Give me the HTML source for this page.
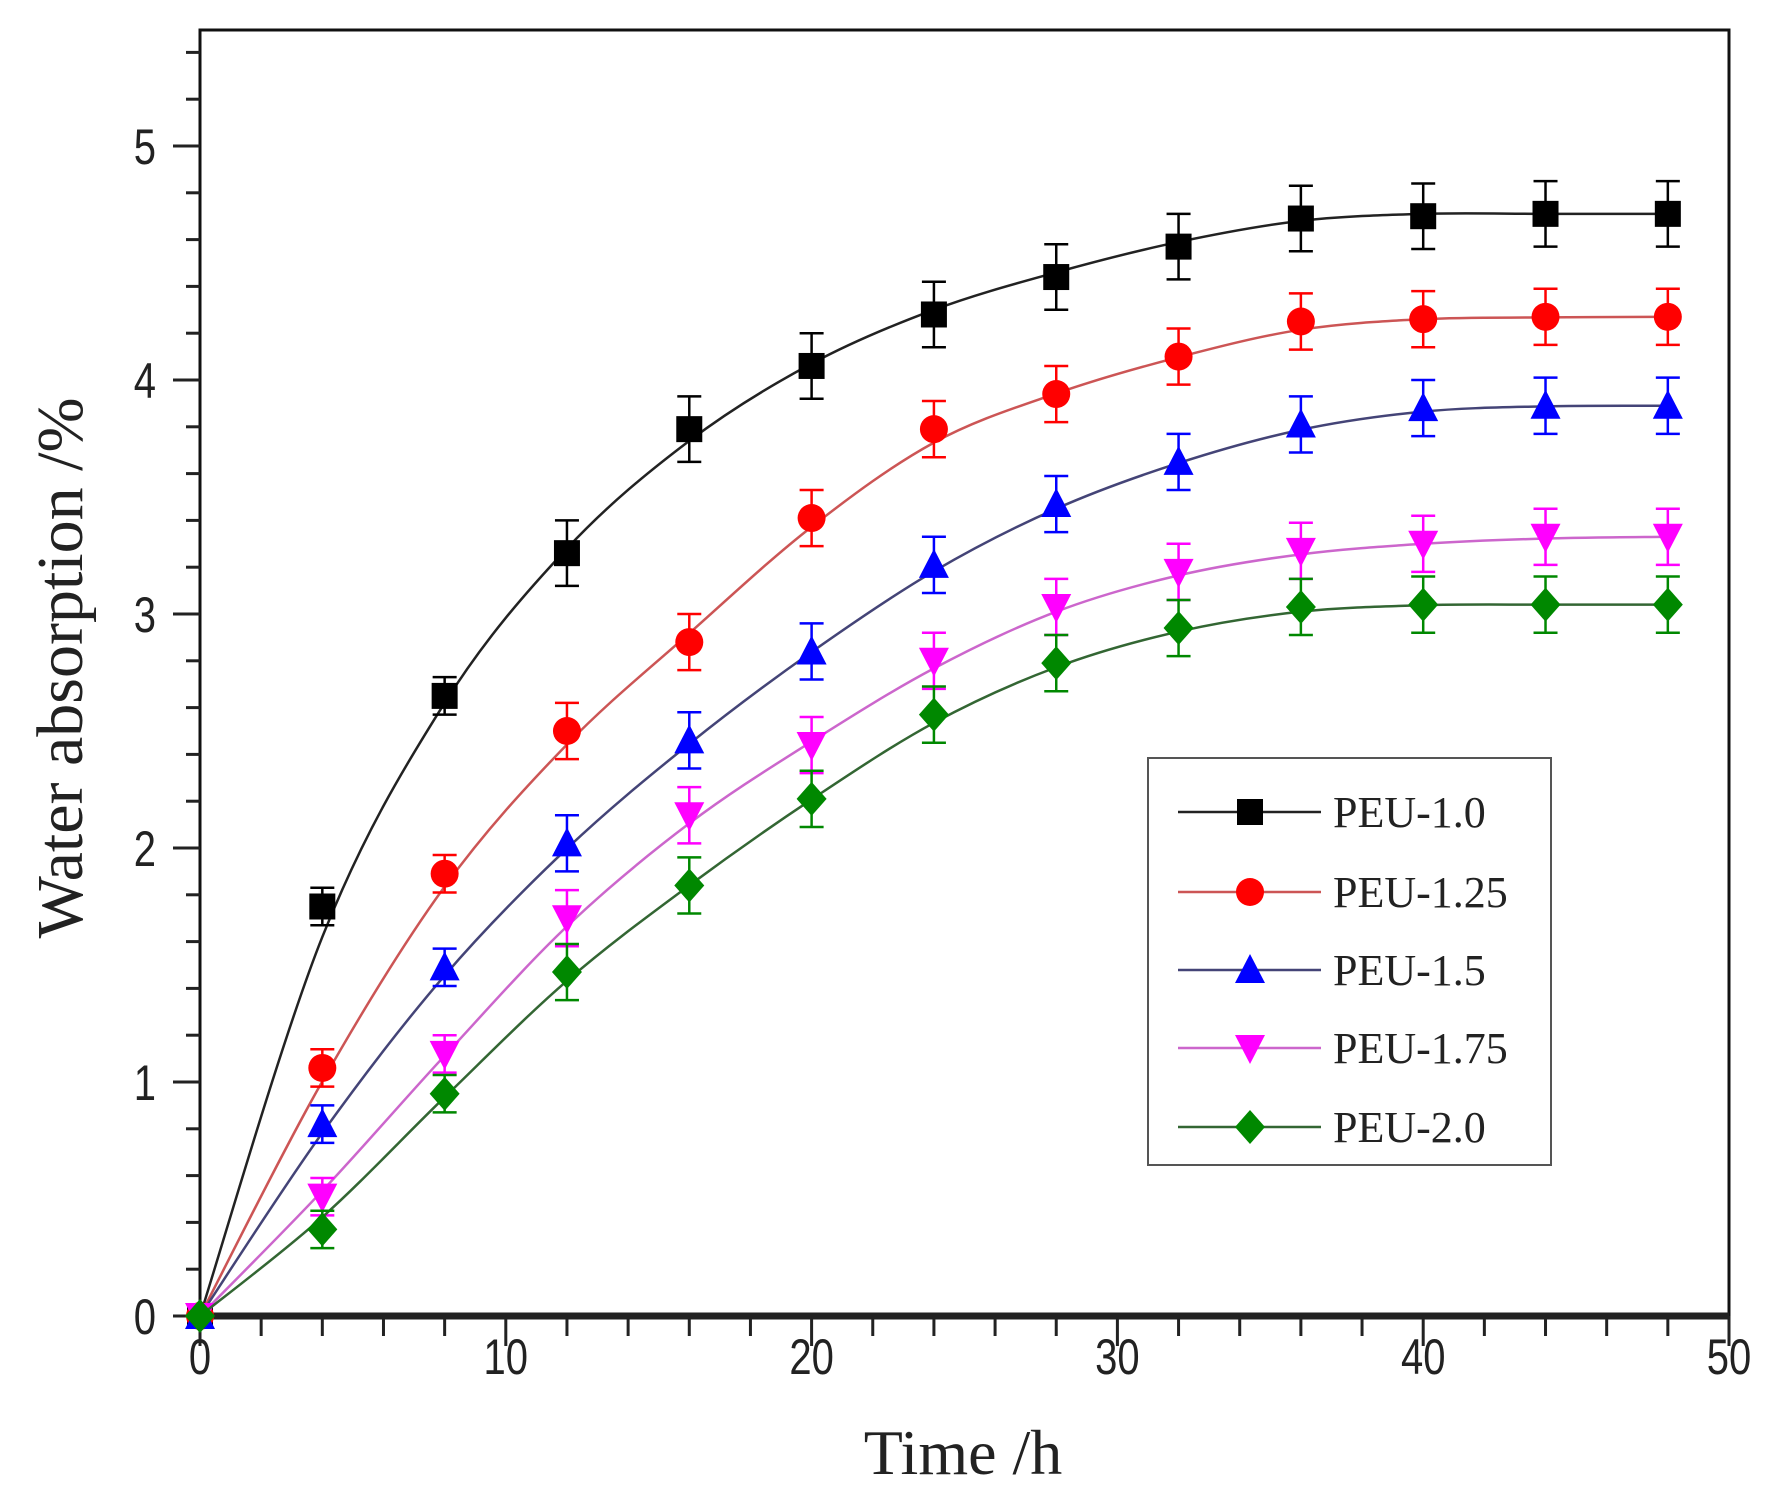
<!DOCTYPE html>
<html><head><meta charset="utf-8"><style>html,body{margin:0;padding:0;background:#fff}svg{display:block}</style></head>
<body>
<svg id="s" width="1776" height="1507" viewBox="0 0 1776 1507" xmlns="http://www.w3.org/2000/svg">
<rect width="1776" height="1507" fill="#fff"/>
<g id="g"></g>
<text x="963" y="1474" font-family="Liberation Serif, serif" font-size="64" text-anchor="middle" fill="#222">Time /h</text>
<text transform="translate(82,668) rotate(-90)" font-family="Liberation Serif, serif" font-size="66" text-anchor="middle" fill="#222">Water absorption /%</text>
</svg>
<script>
const g=document.getElementById('g');const NS='http://www.w3.org/2000/svg';
function el(t,a){const e=document.createElementNS(NS,t);for(const k in a)e.setAttribute(k,a[k]);g.appendChild(e);return e;}
const X0=200,X1=1729,Y0=1316,Yk=234;
const px=x=>X0+x*(X1-X0)/50, py=y=>Y0-y*Yk;
el('rect',{x:X0,y:30,width:X1-X0,height:Y0-30,fill:'none',stroke:'#111','stroke-width':3});
el('line',{x1:X0-10,y1:Y0,x2:X1,y2:Y0,stroke:'#222','stroke-width':7});
function lab(x,y,s,anchor){const t=el('text',{transform:`translate(${x},${y}) scale(0.8,1)`,'font-family':'Liberation Sans, sans-serif','font-size':50,'text-anchor':anchor,fill:'#222'});t.textContent=s;}
for(let i=0;i<=25;i++){const x=px(i*2),maj=i%5==0;el('line',{x1:x,y1:Y0,x2:x,y2:Y0+(maj?30:20),stroke:'#222','stroke-width':3});
 if(maj)lab(x,1374,i*2,'middle');}
for(let i=0;i<=27;i++){const y=py(i*0.2),maj=i%5==0;el('line',{x1:X0,y1:y,x2:X0-(maj?27:14),y2:y,stroke:'#222','stroke-width':3});
 if(maj)lab(156,y+18,i/5,'end');}
const S=[
['#000','sq',[1.75,2.65,3.26,3.79,4.06,4.28,4.44,4.57,4.69,4.70,4.71,4.71],'PEU-1.0',0.14],
['#f00','ci',[1.06,1.89,2.50,2.88,3.41,3.79,3.94,4.10,4.25,4.26,4.27,4.27],'PEU-1.25',0.12],
['#00f','tu',[0.82,1.49,2.02,2.46,2.84,3.21,3.47,3.65,3.81,3.88,3.89,3.89],'PEU-1.5',0.12],
['#f0f','td',[0.51,1.12,1.70,2.14,2.44,2.80,3.03,3.18,3.27,3.30,3.33,3.33],'PEU-1.75',0.12],
['#080','di',[0.37,0.95,1.47,1.84,2.21,2.57,2.79,2.94,3.03,3.04,3.04,3.04],'PEU-2.0',0.12]];
const curves=[
 [0,1.62,2.62,3.28,3.74,4.07,4.30,4.46,4.59,4.68,4.71,4.71,4.71],
 null,null,null,null];
const lc={'#000':'#222','#f00':'#c55','#00f':'#447','#f0f':'#c6c','#080':'#363'};
function mk(type,c,x,y){const r=13;
 if(type=='sq')el('rect',{x:x-r,y:y-r,width:2*r,height:2*r,fill:c});
 if(type=='ci')el('circle',{cx:x,cy:y,r:r+1,fill:c});
 if(type=='tu')el('polygon',{points:`${x},${y-r-3} ${x+r+2},${y+r} ${x-r-2},${y+r}`,fill:c});
 if(type=='td')el('polygon',{points:`${x},${y+r+3} ${x+r+2},${y-r} ${x-r-2},${y-r}`,fill:c});
 if(type=='di')el('polygon',{points:`${x},${y-r-4} ${x+r+2},${y} ${x},${y+r+4} ${x-r-2},${y}`,fill:c});}
function smooth(v){const o=v.slice();for(let i=1;i<v.length-1;i++)o[i]=0.25*v[i-1]+0.5*v[i]+0.25*v[i+1];return o;}
S.forEach((s,k)=>{const raw=[0].concat(s[2]);
 let sv;
 if(curves[k])sv=curves[k];else{sv=smooth(raw);sv[0]=0;}
 const P=sv.map((v,i)=>[px(4*i),py(v)]);
 let d=`M${P[0][0]},${P[0][1]}`;
 for(let i=0;i<P.length-1;i++){const p0=P[Math.max(0,i-1)],p1=P[i],p2=P[i+1],p3=P[Math.min(P.length-1,i+2)];
  d+=` C${p1[0]+(p2[0]-p0[0])/6},${p1[1]+(p2[1]-p0[1])/6} ${p2[0]-(p3[0]-p1[0])/6},${p2[1]-(p3[1]-p1[1])/6} ${p2[0]},${p2[1]}`;}
 el('path',{d:d,fill:'none',stroke:lc[s[0]],'stroke-width':2.5});
 s[2].forEach((v,i)=>{const x=px(4*(i+1)),e=(i<2?0.08:s[4]);const y1=py(v+e),y2=py(v-e);
  el('line',{x1:x,y1:y1,x2:x,y2:y2,stroke:s[0],'stroke-width':2.5});
  el('line',{x1:x-12,y1:y1,x2:x+12,y2:y1,stroke:s[0],'stroke-width':2.5});
  el('line',{x1:x-12,y1:y2,x2:x+12,y2:y2,stroke:s[0],'stroke-width':2.5});
  mk(s[1],s[0],x,py(v));});
 mk(s[1],s[0],px(0),py(0));
 const ly=[812,892,970,1048,1127][k];
 el('line',{x1:1178,y1:ly,x2:1321,y2:ly,stroke:lc[s[0]],'stroke-width':2.5});
 mk(s[1],s[0],1250,ly);
 const t=el('text',{x:1333,y:ly+15,'font-family':'Liberation Serif, serif','font-size':44,fill:'#222'});t.textContent=s[3];});
el('rect',{x:1148,y:758,width:403,height:407,fill:'none',stroke:'#555','stroke-width':2});
</script>
</body></html>
